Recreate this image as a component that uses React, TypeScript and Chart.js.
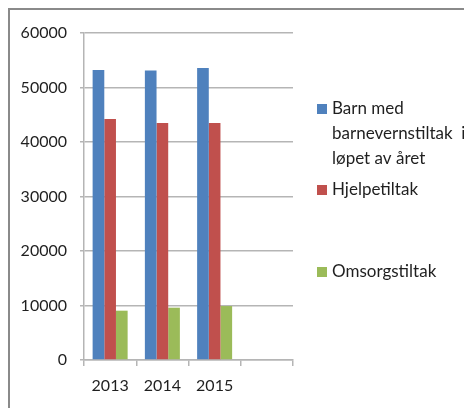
import React, { useEffect, useRef } from "react";
import { Chart, registerables } from "chart.js";

Chart.register(...registerables);

const categories = ["2013", "2014", "2015", ""];
const barnMedTiltak = [53200, 53100, 53600, null];
const hjelpetiltak = [44200, 43500, 43500, null];
const omsorgstiltak = [9050, 9600, 9900, null];
const seriesNames = ["Barn med barnevernstiltak i løpet av året", "Hjelpetiltak", "Omsorgstiltak"];
const legendLines = [["Barn med", "barnevernstiltak  i", "løpet av året"], ["Hjelpetiltak"], ["Omsorgstiltak"]];
const yTicks = [0, 10000, 20000, 30000, 40000, 50000, 60000];

const FONT = "Lato, 'Open Sans', sans-serif";

const framePlugin = {
  id: "frame",
  afterDraw(chart: any) {
    const ctx = chart.ctx;
    ctx.save();
    ctx.strokeStyle = "#8a8a8a";
    ctx.lineWidth = 2;
    ctx.beginPath();
    ctx.moveTo(1, chart.height + 5);
    ctx.lineTo(1, 1);
    ctx.lineTo(chart.width + 5, 1);
    ctx.stroke();
    ctx.restore();
  },
};

const legendPlugin = {
  id: "sideLegend",
  afterDraw(chart: any) {
    const ctx = chart.ctx;
    const x0 = 309;
    const starts = [101, 182, 264];
    const lh = 25;
    ctx.save();
    ctx.font = "17px " + FONT;
    ctx.textBaseline = "middle";
    chart.data.datasets.forEach((ds: any, i: number) => {
      const y = starts[i];
      ctx.fillStyle = ds.backgroundColor;
      ctx.fillRect(x0, y - 5, 10, 10);
      ctx.fillStyle = "#1f1f1f";
      legendLines[i].forEach((line, j) => {
        ctx.fillText(line, x0 + 15, y + j * lh);
      });
    });
    ctx.restore();
  },
};

export default function App() {
  const ref = useRef<HTMLCanvasElement | null>(null);
  useEffect(() => {
    if (!ref.current) return;
    const chart = new Chart(ref.current, {
      type: "bar",
      data: {
        labels: categories,
        datasets: [
          { label: seriesNames[0], data: barnMedTiltak, backgroundColor: "#4F81BD" },
          { label: seriesNames[1], data: hjelpetiltak, backgroundColor: "#C0504D" },
          { label: seriesNames[2], data: omsorgstiltak, backgroundColor: "#9BBB59" },
        ],
      },
      options: {
        animation: false,
        responsive: false,
        maintainAspectRatio: false,
        layout: { padding: { top: 25, right: 179, left: 0, bottom: 0 } },
        datasets: { bar: { categoryPercentage: 0.67, barPercentage: 1 } },
        plugins: { legend: { display: false }, tooltip: { enabled: false } },
        scales: {
          x: {
            offset: true,
            grid: { offset: true, drawOnChartArea: false, drawTicks: true, tickLength: 6, color: "#b5b5b5", lineWidth: 1.5 },
            border: { color: "#b5b5b5", width: 1.5 },
            ticks: { font: { size: 16, family: FONT }, color: "#1f1f1f", padding: 10 },
            afterFit(scale: any) { scale.height = 48; },
          },
          y: {
            min: 0,
            max: 60000,
            afterBuildTicks(scale: any) { scale.ticks = yTicks.map((v) => ({ value: v })); },
            grid: { color: "#b5b5b5", lineWidth: 1.5, tickLength: 4 },
            border: { color: "#b5b5b5", width: 1.5 },
            ticks: { font: { size: 16, family: FONT }, color: "#1f1f1f", padding: 13, callback: (v: any) => String(v) },
            afterFit(scale: any) { scale.width = 76; },
          },
        },
      },
      plugins: [framePlugin, legendPlugin],
    });
    return () => chart.destroy();
  }, []);
  return <canvas ref={ref} width={464} height={400} style={{ display: "block" }} />;
}
